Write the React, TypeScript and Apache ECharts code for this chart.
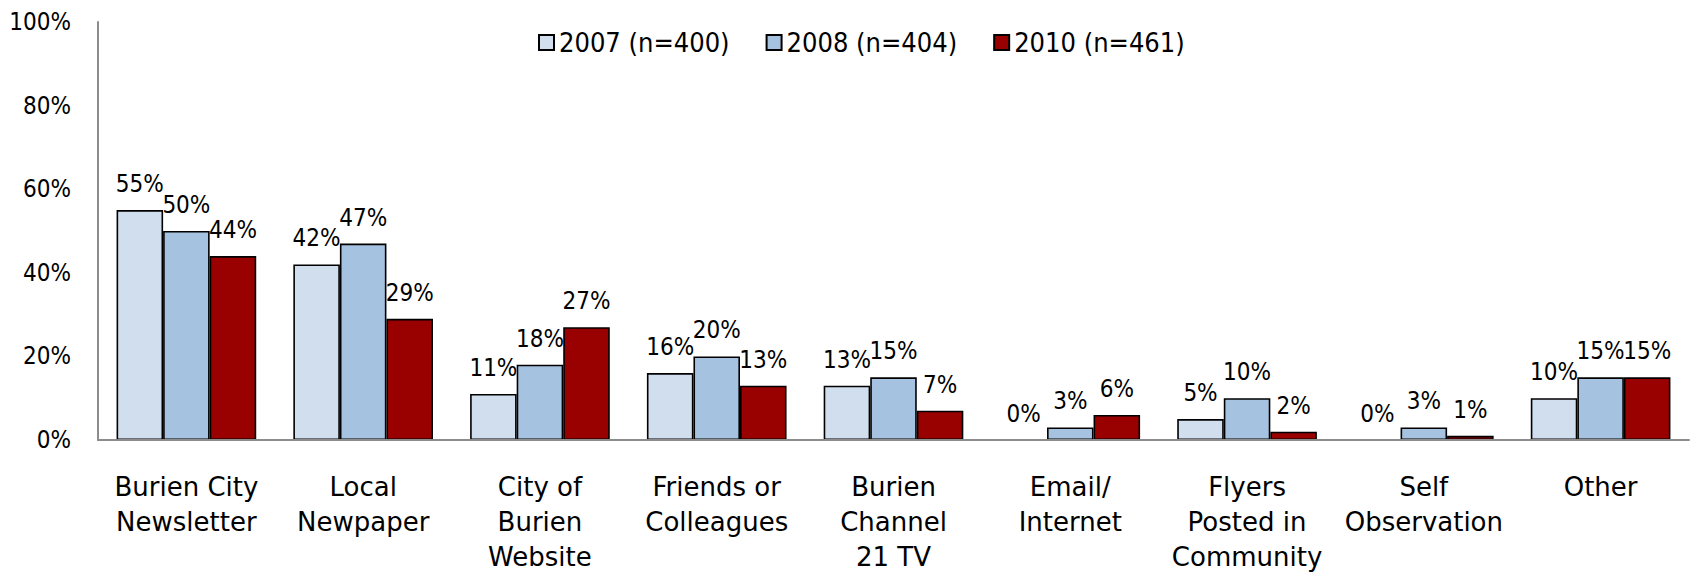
import React, { useEffect, useRef } from 'react';
import * as echarts from 'echarts';

const categories = [
  'Burien City\nNewsletter',
  'Local\nNewpaper',
  'City of\nBurien\nWebsite',
  'Friends or\nColleagues',
  'Burien\nChannel\n21 TV',
  'Email/\nInternet',
  'Flyers\nPosted in\nCommunity',
  'Self\nObservation',
  'Other',
];
const seriesNames = ['2007 (n=400)', '2008 (n=404)', '2010 (n=461)'];
const values2007 = [55, 42, 11, 16, 13, 0, 5, 0, 10];
const values2008 = [50, 47, 18, 20, 15, 3, 10, 3, 15];
const values2010 = [44, 29, 27, 13, 7, 6, 2, 1, 15];
const seriesColors = ['#D0DEEE', '#A5C2E0', '#990000'];

const FONT = "'DejaVu Sans Condensed', 'Liberation Sans Narrow', sans-serif";
const FONT_WIDE = "'DejaVu Sans', Verdana, sans-serif";

export default function App() {
  const ref = useRef<HTMLDivElement>(null);
  useEffect(() => {
    if (!ref.current) return;
    const chart = echarts.init(ref.current, null, { renderer: 'svg' });
    const allValues = [values2007, values2008, values2010];
    chart.setOption({
      animation: false,
      backgroundColor: '#ffffff',
      textStyle: { fontFamily: FONT },
      legend: {
        left: 538,
        top: 29,
        padding: 0,
        itemWidth: 15,
        itemHeight: 15,
        itemGap: 36,
        icon: 'rect',
        textStyle: { fontFamily: FONT, fontSize: 27, color: '#000' },
        data: seriesNames,
      },
      grid: { left: 98, right: 5, top: 22, bottom: 126, containLabel: false },
      xAxis: {
        type: 'category',
        data: categories,
        axisLine: { show: true, lineStyle: { color: '#8c8c8c', width: 2 } },
        axisTick: { show: false },
        z: 5,
        axisLabel: {
          interval: 0,
          margin: 29,
          fontFamily: FONT_WIDE,
          fontSize: 26,
          lineHeight: 35,
          color: '#000',
        },
      },
      yAxis: {
        type: 'value',
        min: 0,
        max: 100,
        interval: 20,
        axisLine: { show: true, lineStyle: { color: '#8c8c8c', width: 2 } },
        axisTick: { show: false },
        splitLine: { show: false },
        axisLabel: {
          formatter: '{value}%',
          margin: 27,
          fontFamily: FONT,
          fontSize: 24,
          color: '#000',
        },
      },
      series: seriesNames.map((name, i) => ({
        name,
        type: 'bar',
        data: allValues[i].map((v) =>
          v === 0 ? { value: v, itemStyle: { borderWidth: 0 } } : v
        ),
        barGap: '0%',
        barCategoryGap: '21%',
        itemStyle: { color: seriesColors[i], borderColor: '#000', borderWidth: 1.6 },
        label: {
          show: true,
          position: 'top',
          distance: 14,
          formatter: '{c}%',
          fontFamily: FONT,
          fontSize: 24,
          color: '#000',
        },
      })),
    });
    return () => chart.dispose();
  }, []);
  return (
    <div
      ref={ref}
      style={{ position: 'fixed', left: 0, top: 0, width: 1694, height: 574 }}
    />
  );
}
